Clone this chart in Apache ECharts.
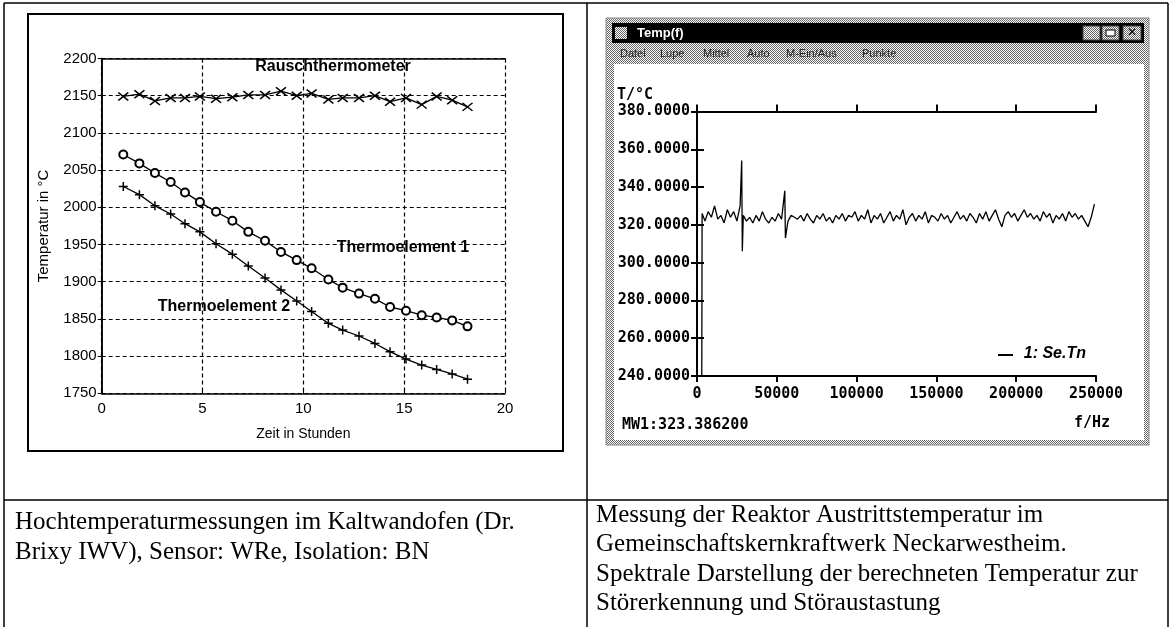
<!DOCTYPE html>
<html><head><meta charset="utf-8">
<script src="https://cdn.jsdelivr.net/npm/echarts@6.0.0/dist/echarts.min.js"></script>
<style>html,body{margin:0;padding:0;background:#fff}#c{width:1175px;height:627px}</style>
</head><body><div id="c"></div><script>
// ---- left chart data (Zeit in Stunden / Temperatur in °C)
const hours    = [1.07,1.87,2.64,3.42,4.13,4.87,5.67,6.48,7.27,8.10,8.89,9.67,10.41,11.24,11.95,12.76,13.55,14.30,15.09,15.87,16.61,17.38,18.14];
const rausch   = [2149,2152,2143,2147,2147,2149,2146,2148,2151,2151,2156,2150,2153,2145,2147,2147,2150,2142,2147,2138,2149,2144,2135];
const thermo1  = [2071,2059,2046,2034,2020,2007,1994,1982,1967,1955,1940,1929,1918,1903,1892,1884,1877,1866,1861,1855,1852,1848,1840];
const thermo2  = [2028,2017,2002,1991,1978,1967,1951,1937,1921,1905,1889,1874,1860,1844,1835,1827,1817,1806,1796,1788,1782,1776,1769];
const seriesNamesLeft = ['Rauschthermometer','Thermoelement 1','Thermoelement 2'];
// ---- right chart data (f/Hz, T/°C)
const freqHz = [3000,3200,5000,7000,9000,11000,13000,15000,17000,19000,21000,23000,25000,27000,28000,28400,29000,31000,33000,35000,37000,39000,41000,43000,45000,47000,49000,51000,53000,55000,55400,57000,59000,61000,63000,65000,67000,69000,71000,73000,75000,77000,79000,81000,83000,85000,87000,89000,91000,93000,95000,97000,99000,101000,103000,105000,107000,109000,111000,113000,115000,117000,119000,121000,123000,125000,127000,129000,131000,133000,135000,137000,139000,141000,143000,145000,147000,149000,151000,153000,155000,157000,159000,161000,163000,165000,167000,169000,171000,173000,175000,177000,179000,181000,183000,185000,187000,189000,191000,193000,195000,197000,199000,201000,203000,205000,207000,209000,211000,213000,215000,217000,219000,221000,223000,225000,227000,229000,231000,233000,235000,237000,239000,241000,243000,245000,247000,249000];
const tempC  = [240,326,322,327,324,330,323,325,321,328,324,327,322,330,354,306,325,322,324,321,325,322,327,323,321,324,322,326,323,338,313,322,325,324,323,325,322,326,323,321,325,323,326,322,324,321,325,323,326,322,325,324,327,322,325,323,328,321,325,323,326,321,324,327,322,325,323,328,320,324,326,322,325,323,327,321,325,324,322,326,323,325,321,324,327,323,325,322,326,324,321,326,323,327,322,325,328,323,319,325,327,324,326,322,325,328,324,326,323,325,322,327,324,326,321,325,323,326,322,327,324,326,323,325,322,319,324,331];
const seriesNameRight = '1: Se.Tn';
const menuItems = ['Datei','Lupe','Mittel','Auto','M-Ein/Aus','Punkte'];
const menuX = [620,660,703,747,786,862];
const captionLeft = ['Hochtemperaturmessungen im Kaltwandofen (Dr.','Brixy IWV), Sensor: WRe, Isolation: BN'];
const captionRight = ['Messung der Reaktor Austrittstemperatur im','Gemeinschaftskernkraftwerk Neckarwestheim.','Spektrale Darstellung der berechneten Temperatur zur','Störerkennung und Störaustastung'];

function dither(){
  const c=document.createElement('canvas'); c.width=2;c.height=2;
  const g=c.getContext('2d'); g.fillStyle='#fff'; g.fillRect(0,0,2,2);
  g.fillStyle='#666'; g.fillRect(0,0,1,1); g.fillRect(1,1,1,1); return c;
}
const dp = {image: dither(), repeat:'repeat'};

const chart = echarts.init(document.getElementById('c'), null, {renderer:'canvas'});
const LF = 'Liberation Sans, Arial, sans-serif';
const MF = 'DejaVu Sans Mono, monospace';
const SF = 'Liberation Serif, Times New Roman, serif';
const blk = '#000';

const graphics = [
  // table lines
  {type:'line', shape:{x1:4,y1:3,x2:1168,y2:3}, style:{stroke:blk,lineWidth:1.5}, z:-5},
  {type:'line', shape:{x1:4,y1:3,x2:4,y2:627}, style:{stroke:blk,lineWidth:1.5}, z:-5},
  {type:'line', shape:{x1:1168,y1:3,x2:1168,y2:627}, style:{stroke:blk,lineWidth:1.5}, z:-5},
  {type:'line', shape:{x1:587,y1:3,x2:587,y2:627}, style:{stroke:blk,lineWidth:1.5}, z:-5},
  {type:'line', shape:{x1:4,y1:500,x2:1168,y2:500}, style:{stroke:blk,lineWidth:1.5}, z:-5},
  // left figure frame
  {type:'rect', shape:{x:28,y:14,width:535,height:437}, style:{fill:'#fff',stroke:blk,lineWidth:2}, z:-5},
  // right window
  {type:'rect', shape:{x:606,y:18,width:543,height:427}, style:{fill:dp,stroke:'#888',lineWidth:1}, z:-5},
  {type:'rect', shape:{x:612,y:23,width:532,height:20}, style:{fill:'#000'}, z:-4},
  {type:'rect', shape:{x:614,y:64,width:530,height:376}, style:{fill:'#fff'}, z:-4},
  {type:'rect', shape:{x:615,y:27,width:12,height:12}, style:{fill:dp}, z:-3},
  {type:'text', x:637, y:33, style:{text:'Temp(f)', fill:'#fff', font:'bold 13px '+LF, verticalAlign:'middle'}, z:10},
  {type:'rect', shape:{x:1083,y:26,width:17,height:14}, style:{fill:dp,stroke:'#444'}, z:-3},
  {type:'rect', shape:{x:1102,y:26,width:17,height:14}, style:{fill:dp,stroke:'#444'}, z:-3},
  {type:'rect', shape:{x:1106,y:30,width:9,height:6}, style:{fill:'#fff',stroke:'#000'}, z:-2},
  {type:'rect', shape:{x:1123,y:26,width:18,height:14}, style:{fill:dp,stroke:'#444'}, z:-3},
  {type:'text', x:1132, y:33, style:{text:'✕', fill:'#000', font:'bold 12px DejaVu Sans', align:'center', verticalAlign:'middle'}, z:10},
  // right chart texts
  {type:'text', x:617, y:95, style:{text:'T/°C', fill:blk, font:'bold 15px '+MF, verticalAlign:'middle'}, z:10},
  {type:'text', x:622, y:425, style:{text:'MW1:323.386200', fill:blk, font:'bold 15px '+MF, verticalAlign:'middle'}, z:10},
  {type:'text', x:1110, y:423, style:{text:'f/Hz', fill:blk, font:'bold 15px '+MF, align:'right', verticalAlign:'middle'}, z:10},
  {type:'line', shape:{x1:998,y1:355,x2:1013,y2:355}, style:{stroke:blk,lineWidth:2}, z:10},
  {type:'text', x:1086, y:354, style:{text:seriesNameRight, fill:blk, font:'italic bold 16px '+LF, align:'right', verticalAlign:'middle'}, z:10},
  // left chart labels
  {type:'text', x:333, y:67, style:{text:seriesNamesLeft[0], fill:blk, font:'bold 16px '+LF, align:'center', verticalAlign:'middle'}, z:10},
  {type:'text', x:403, y:248, style:{text:seriesNamesLeft[1], fill:blk, font:'bold 16px '+LF, align:'center', verticalAlign:'middle'}, z:10},
  {type:'text', x:224, y:307, style:{text:seriesNamesLeft[2], fill:blk, font:'bold 16px '+LF, align:'center', verticalAlign:'middle'}, z:10}
];
menuItems.forEach((m,i)=>graphics.push({type:'text', x:menuX[i], y:54, style:{text:m, fill:'#222', font:'11px '+LF, verticalAlign:'middle'}, z:10}));
captionLeft.forEach((t,i)=>graphics.push({type:'text', x:15, y:522+i*30, style:{text:t, fill:blk, font:'25px '+SF, verticalAlign:'middle'}, z:10}));
captionRight.forEach((t,i)=>graphics.push({type:'text', x:596, y:515+i*29.5, style:{text:t, fill:blk, font:'25px '+SF, verticalAlign:'middle'}, z:10}));

const axL = {lineStyle:{color:blk,width:1.5}};
const plain = v => String(v);
const option = {
  animation:false,
  backgroundColor:'#fff',
  grid:[
    {left:101.7, top:58.5, width:403.3, height:334.8, show:false},
    {left:697, top:111.5, width:399, height:264.5, show:false}
  ],
  xAxis:[
    {gridIndex:0, type:'value', min:0, max:20, interval:5, position:'bottom',
     axisLine:axL, axisTick:{inside:true,length:4,lineStyle:{color:blk}},
     axisLabel:{color:blk, fontFamily:LF, fontSize:15, margin:8, formatter:plain},
     splitLine:{show:true, lineStyle:{color:blk, type:[4,3], width:1.2}},
     name:'Zeit in Stunden', nameLocation:'middle', nameGap:34, nameTextStyle:{color:blk,fontFamily:LF,fontSize:14}},
    {gridIndex:0, type:'value', min:0, max:20, interval:5, position:'top',
     axisLine:axL, axisTick:{inside:true,length:4,lineStyle:{color:blk}}, axisLabel:{show:false}, splitLine:{show:false}},
    {gridIndex:1, type:'value', min:0, max:250000, interval:50000, position:'bottom',
     axisLine:{lineStyle:{color:blk,width:2}}, axisTick:{inside:false,length:6,lineStyle:{color:blk,width:2}},
     axisLabel:{color:blk, fontFamily:MF, fontWeight:'bold', fontSize:15, margin:11, formatter:plain},
     splitLine:{show:false}},
    {gridIndex:1, type:'value', min:0, max:250000, interval:50000, position:'top',
     axisLine:{lineStyle:{color:blk,width:2}}, axisTick:{inside:false,length:7,lineStyle:{color:blk,width:2}},
     axisLabel:{show:false}, splitLine:{show:false}}
  ],
  yAxis:[
    {gridIndex:0, type:'value', min:1750, max:2200, interval:50, position:'left',
     axisLine:axL, axisTick:{inside:true,length:4,lineStyle:{color:blk}},
     axisLabel:{color:blk, fontFamily:LF, fontSize:15, margin:5, formatter:plain},
     splitLine:{show:true, lineStyle:{color:blk, type:[4,3], width:1.2}},
     name:'Temperatur in °C', nameLocation:'middle', nameRotate:90, nameGap:50, nameTextStyle:{color:blk,fontFamily:LF,fontSize:15}},
    {gridIndex:0, type:'value', min:1750, max:2200, interval:50, position:'right',
     axisLine:axL, axisTick:{inside:true,length:4,lineStyle:{color:blk}}, axisLabel:{show:false}, splitLine:{show:false}},
    {gridIndex:1, type:'value', min:240, max:380, interval:20, position:'left',
     axisLine:{lineStyle:{color:blk,width:2}}, axisTick:{inside:false,length:6,lineStyle:{color:blk,width:2}},
     axisLabel:{color:blk, fontFamily:MF, fontWeight:'bold', fontSize:15, margin:7, formatter:v=>v.toFixed(4)},
     splitLine:{show:false}},
    {gridIndex:1, type:'value', min:240, max:380, interval:20, position:'right',
     axisLine:{lineStyle:{color:blk,width:2}}, axisTick:{inside:false,length:7,lineStyle:{color:blk,width:2}},
     axisLabel:{show:false}, splitLine:{show:false}}
  ],
  series:[
    {name:seriesNamesLeft[0], type:'line', xAxisIndex:0, yAxisIndex:0,
     data:hours.map((h,i)=>[h,rausch[i]]),
     symbol:'path://M0,0 L10,10 M0,10 L10,0', symbolSize:[10,8],
     itemStyle:{color:'none', borderColor:blk, borderWidth:1.5},
     lineStyle:{color:blk,width:1.3}, z:5},
    {name:seriesNamesLeft[1], type:'line', xAxisIndex:0, yAxisIndex:0,
     data:hours.map((h,i)=>[h,thermo1[i]]),
     symbol:'emptyCircle', symbolSize:8,
     itemStyle:{color:blk, borderColor:blk, borderWidth:1.2},
     lineStyle:{color:blk,width:1.3}, z:5},
    {name:seriesNamesLeft[2], type:'line', xAxisIndex:0, yAxisIndex:0,
     data:hours.map((h,i)=>[h,thermo2[i]]),
     symbol:'path://M0,5 L10,5 M5,0 L5,10', symbolSize:9,
     itemStyle:{color:'none', borderColor:blk, borderWidth:1.5},
     lineStyle:{color:blk,width:1.3}, z:5},
    {name:seriesNameRight, type:'line', xAxisIndex:2, yAxisIndex:2,
     data:freqHz.map((f,i)=>[f,tempC[i]]),
     showSymbol:false, symbol:'none',
     lineStyle:{color:blk,width:1.3}, z:5}
  ],
  graphic:graphics
};
chart.setOption(option);
</script></body></html>
